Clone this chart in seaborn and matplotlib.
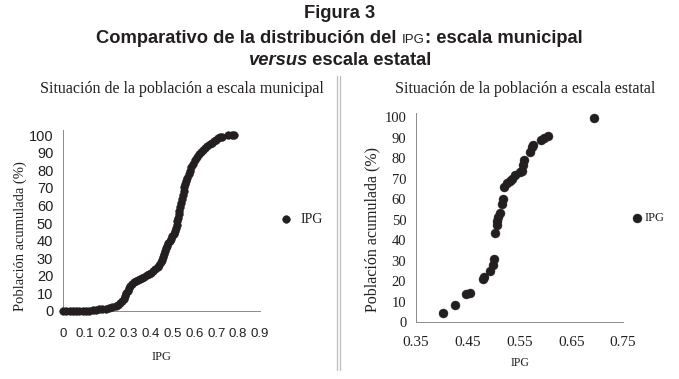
import matplotlib
matplotlib.use("Agg")
import matplotlib.pyplot as plt
from matplotlib.lines import Line2D
import seaborn as sns
import pandas as pd

# ---------------- data ----------------
ipg_municipal = [0.000, 0.015, 0.030, 0.045, 0.060, 0.075, 0.090, 0.105, 0.120, 0.135,
                 0.150, 0.165, 0.180, 0.195, 0.210, 0.225, 0.240, 0.252, 0.262, 0.270,
                 0.277, 0.284, 0.290, 0.296, 0.302, 0.308, 0.315, 0.323, 0.332, 0.342,
                 0.352, 0.362, 0.372, 0.382, 0.392, 0.402, 0.412, 0.422, 0.432, 0.440,
                 0.447, 0.452, 0.456, 0.460, 0.465, 0.470, 0.475, 0.481, 0.487, 0.493,
                 0.499, 0.505, 0.511, 0.516, 0.519, 0.522, 0.525, 0.528, 0.531, 0.535,
                 0.539, 0.543, 0.547, 0.551, 0.555, 0.559, 0.563, 0.568, 0.574, 0.580,
                 0.587, 0.594, 0.602, 0.611, 0.620, 0.630, 0.640, 0.650, 0.660, 0.670,
                 0.680, 0.690, 0.700, 0.710, 0.718, 0.725, 0.755, 0.770, 0.782]
pob_municipal = [0.0, 0.0, 0.0, 0.0, 0.0, 0.0, 0.0, 0.0, 0.1, 0.4,
                 0.7, 0.9, 1.1, 1.3, 1.6, 2.0, 2.7, 3.6, 4.7, 5.8,
                 7.0, 8.5, 10.0, 11.5, 13.0, 14.4, 15.6, 16.6, 17.3, 17.8,
                 18.3, 18.9, 19.6, 20.3, 21.0, 21.8, 22.7, 23.7, 24.9, 26.2,
                 27.8, 29.3, 30.8, 32.3, 34.0, 35.6, 37.0, 38.5, 39.8, 41.0,
                 42.5, 44.0, 45.5, 47.2, 49.0, 51.0, 53.0, 55.0, 57.0, 59.3,
                 61.6, 63.8, 66.0, 68.2, 70.3, 72.3, 74.0, 75.8, 77.8, 79.8,
                 81.8, 83.8, 85.8, 87.6, 89.2, 90.6, 91.8, 92.9, 93.9, 94.8,
                 95.7, 96.6, 97.4, 98.2, 98.8, 99.3, 100.0, 100.0, 100.0]

ipg_estatal = [0.403, 0.425, 0.447, 0.454, 0.479, 0.482, 0.493, 0.498, 0.501, 0.503,
               0.506, 0.507, 0.509, 0.512, 0.517, 0.518, 0.520, 0.525, 0.532, 0.536,
               0.541, 0.550, 0.554, 0.557, 0.559, 0.570, 0.575, 0.577, 0.591, 0.597,
               0.606, 0.693]
pob_estatal = [4.2, 8.3, 13.5, 14.0, 21.0, 22.0, 25.0, 27.8, 30.6, 43.3,
               47.3, 49.4, 51.4, 53.0, 57.6, 59.8, 66.0, 67.7, 69.0, 69.9,
               71.7, 73.3, 73.8, 76.6, 79.0, 83.0, 85.5, 86.5, 88.8, 89.9,
               90.7, 99.8]

ticks_x_mun = [0, 0.1, 0.2, 0.3, 0.4, 0.5, 0.6, 0.7, 0.8, 0.9]
labels_x_mun = ["0", "0.1", "0.2", "0.3", "0.4", "0.5", "0.6", "0.7", "0.8", "0.9"]
ticks_x_est = [0.35, 0.45, 0.55, 0.65, 0.75]
labels_x_est = ["0.35", "0.45", "0.55", "0.65", "0.75"]
ticks_y = [0, 10, 20, 30, 40, 50, 60, 70, 80, 90, 100]

series_label = "IPG"
ylabel_text = "Población acumulada (%)"
title_mun = "Situación de la población a escala municipal"
title_est = "Situación de la población a escala estatal"

# ---------------- style ----------------
sns.set_style("white")
plt.rcParams['font.family'] = ['Liberation Serif', 'DejaVu Serif']
INK = '#231f20'
AXC = '#8a8a8a'
SANS = ['Liberation Sans', 'DejaVu Sans']
SERIF = ['Liberation Serif', 'DejaVu Serif']

W, H = 679, 379
fig = plt.figure(figsize=(W / 100, H / 100), dpi=100)
fig.patch.set_facecolor('white')


def rect(x0, x1, ytop, ybot):
    return [x0 / W, 1 - ybot / H, (x1 - x0) / W, (ybot - ytop) / H]


ax1 = fig.add_axes(rect(63, 260, 130, 311))
ax2 = fig.add_axes(rect(416, 623, 113, 322))

df_mun = pd.DataFrame({"IPG": ipg_municipal, "pob": pob_municipal})
df_est = pd.DataFrame({"IPG": ipg_estatal, "pob": pob_estatal})

sns.scatterplot(data=df_mun, x="IPG", y="pob", ax=ax1, s=30, color=INK,
                edgecolor=INK, linewidth=0.4, label=series_label, clip_on=False, zorder=3)
sns.scatterplot(data=df_est, x="IPG", y="pob", ax=ax2, s=42, color=INK,
                edgecolor=INK, linewidth=0.3, label=series_label, clip_on=False, zorder=3)

# ----- left axes -----
ax1.set_xlim(0, 0.9)
ax1.set_ylim(0, 103)
ax1.set_xticks(ticks_x_mun)
ax1.set_xticklabels(labels_x_mun, family=SANS, fontsize=9.5, color=INK)
ax1.set_yticks(ticks_y)
ax1.set_yticklabels([str(v) for v in ticks_y], family=SANS, fontsize=10.5, color=INK)
ax1.tick_params(axis='x', length=3, width=0.6, color=AXC, pad=9, direction='out')
ax1.tick_params(axis='y', length=0, pad=7)
ax1.set_xlabel("")
ax1.set_ylabel("")
for sp in ['top', 'right']:
    ax1.spines[sp].set_visible(False)
for sp in ['left', 'bottom']:
    ax1.spines[sp].set_color(AXC)
    ax1.spines[sp].set_linewidth(0.7)
leg1 = ax1.legend(loc='center left', bbox_to_anchor=(280 / W, 1 - 219 / H),
                  bbox_transform=fig.transFigure, frameon=False, borderpad=0,
                  borderaxespad=0, handlelength=0.8, handletextpad=0.7,
                  prop={'family': SERIF, 'size': 10})
for t in leg1.get_texts():
    t.set_color(INK)

# ----- right axes -----
ax2.set_xlim(0.35, 0.75)
ax2.set_ylim(0, 102)
ax2.set_xticks(ticks_x_est)
ax2.set_xticklabels(labels_x_est, family=SERIF, fontsize=11, color=INK)
ax2.set_yticks(ticks_y)
ax2.set_yticklabels([str(v) for v in ticks_y], family=SERIF, fontsize=10.5, color=INK)
ax2.tick_params(axis='x', length=3, width=0.6, color=AXC, pad=7, direction='out')
ax2.tick_params(axis='y', length=3, width=0.6, color=AXC, pad=4, direction='out')
ax2.set_xlabel("")
ax2.set_ylabel("")
for sp in ['top', 'right']:
    ax2.spines[sp].set_visible(False)
for sp in ['left', 'bottom']:
    ax2.spines[sp].set_color(AXC)
    ax2.spines[sp].set_linewidth(0.7)
leg2 = ax2.legend(loc='center left', bbox_to_anchor=(633 / W, 1 - 218 / H),
                  bbox_transform=fig.transFigure, frameon=False, borderpad=0,
                  borderaxespad=0, handlelength=0.7, handletextpad=0.2,
                  prop={'family': SERIF, 'size': 9})
for t in leg2.get_texts():
    t.set_color(INK)

# ----- axis titles / labels -----
fig.text(20 / W, 1 - 236 / H, ylabel_text, rotation=90, ha='center', va='center',
         family=SERIF, fontsize=10.5, color=INK)
fig.text(372 / W, 1 - 229 / H, ylabel_text, rotation=90, ha='center', va='center',
         family=SERIF, fontsize=11.5, color=INK)
fig.text(161 / W, 1 - 357 / H, series_label, ha='center', va='center',
         family=SERIF, fontsize=9, color=INK)
fig.text(520 / W, 1 - 363 / H, series_label, ha='center', va='center',
         family=SERIF, fontsize=8.5, color=INK)
fig.text(182 / W, 1 - 89 / H, title_mun, ha='center', va='center',
         family=SERIF, fontsize=11.5, color=INK)
fig.text(525 / W, 1 - 89 / H, title_est, ha='center', va='center',
         family=SERIF, fontsize=11.5, color=INK)

# separator (double grey rule)
for xs in (336.5, 339.5):
    fig.add_artist(Line2D([xs / W, xs / W], [1 - 76 / H, 1 - 370 / H],
                          transform=fig.transFigure, color='#bdbdbd', lw=0.9))

# ----- main heading with mixed fonts -----
renderer = fig.canvas.get_renderer()


def centered_runs(ybase_px, runs, cx_px=W / 2):
    texts = []
    for s, kw in runs:
        t = fig.text(0, 1 - ybase_px / H, s, va='baseline', ha='left', color=INK, **kw)
        texts.append(t)
    widths = [t.get_window_extent(renderer).width for t in texts]
    x = cx_px - sum(widths) / 2
    for t, w in zip(texts, widths):
        t.set_x(x / W)
        x += w


bold = dict(family=SANS, fontsize=13.2, fontweight='bold')
centered_runs(18, [("Figura 3", bold)])
centered_runs(43, [("Comparativo de la distribución del ", bold),
                   ("IPG", dict(family=SANS, fontsize=9.5)),
                   (": escala municipal", bold)])
centered_runs(65, [("versus", dict(family=SANS, fontsize=13.2, fontweight='bold', style='italic')),
                   (" escala estatal", bold)])

fig.savefig("out.png", dpi=100, facecolor='white')
